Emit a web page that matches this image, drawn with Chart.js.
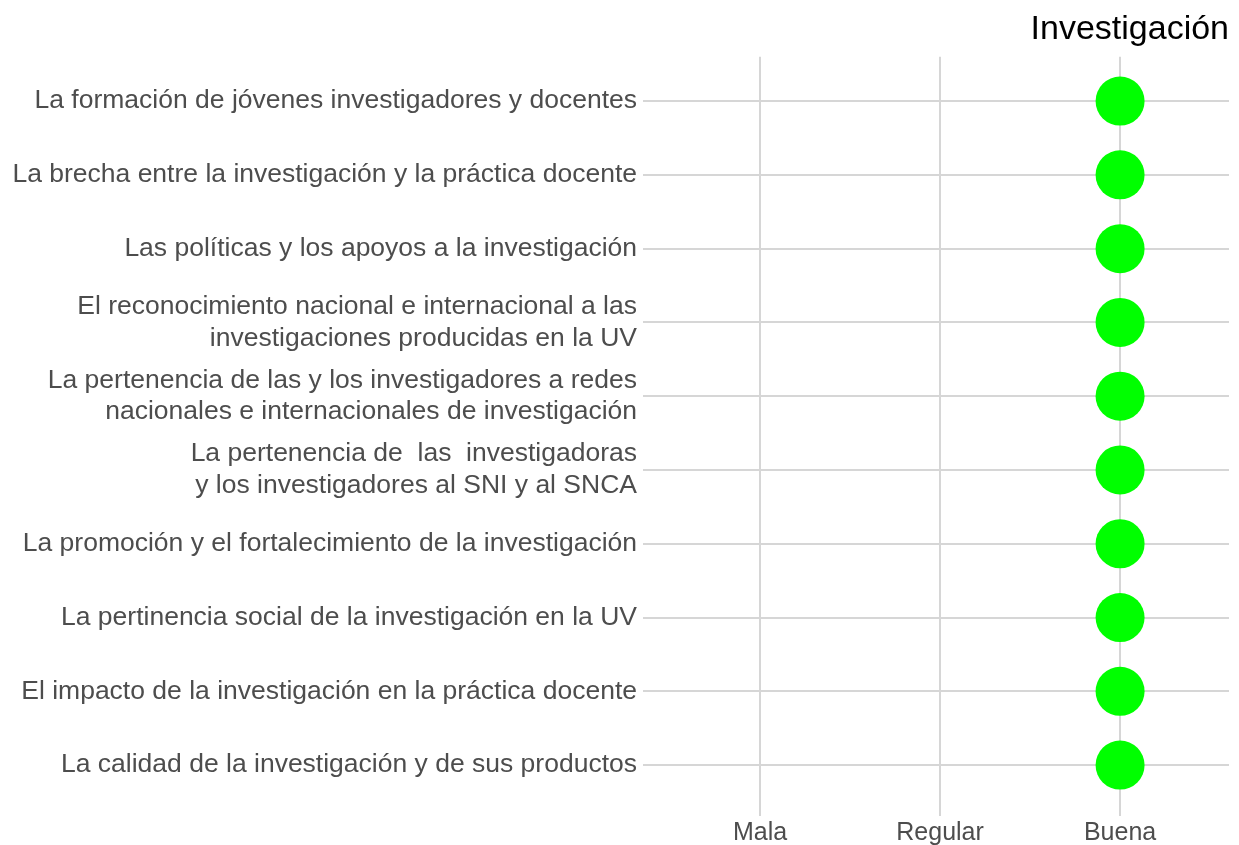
<!DOCTYPE html>
<html>
<head>
<meta charset="utf-8">
<script src="https://cdn.jsdelivr.net/npm/chart.js@4.4.1/dist/chart.umd.min.js"></script>
<style>
  html, body { margin: 0; padding: 0; background: #fff; }
  #wrap { width: 1239px; height: 845px; }
</style>
</head>
<body>
<div id="wrap"><canvas id="chartDots"></canvas></div>
<script>
// rubros de la dimension Investigacion (de arriba hacia abajo)
var categories = [
    'La formación de jóvenes investigadores y docentes',
    'La brecha entre la investigación y la práctica docente',
    'Las políticas y los apoyos a la investigación',
    ['El reconocimiento nacional e internacional a las', 'investigaciones producidas en la UV'],
    ['La pertenencia de las y los investigadores a redes', 'nacionales e internacionales de investigación'],
    ['La pertenencia de  las  investigadoras', 'y los investigadores al SNI y al SNCA'],
    'La promoción y el fortalecimiento de la investigación',
    'La pertinencia social de la investigación en la UV',
    'El impacto de la investigación en la práctica docente',
    'La calidad de la investigación y de sus productos'
];
var ratingLabels = ['Mala', 'Regular', 'Buena'];
// valoracion de cada rubro (indice en ratingLabels, 1 = Mala)
var ratings = [3, 3, 3, 3, 3, 3, 3, 3, 3, 3];

var points = ratings.map(function (r, i) { return { x: r, y: i + 1 }; });

var fontFam = "'Liberation Sans', Arial, sans-serif";
var gridColor = '#d6d6d6';

var dots = new Chart(document.getElementById('chartDots'), {
    type: 'scatter',
    data: {
        datasets: [
            {
                data: points,
                backgroundColor: '#00ff00',
                borderWidth: 0,
                pointRadius: 24.5,
                pointHoverRadius: 24.5
            }
        ]
    },
    options: {
        responsive: true,
        maintainAspectRatio: false,
        animation: false,
        layout: { autoPadding: false, padding: { left: 0, right: 10, top: 0, bottom: 0 } },
        plugins: {
            legend: { display: false },
            tooltip: { enabled: false },
            title: {
                display: true,
                text: 'Investigación',
                align: 'end',
                color: '#000',
                font: { family: fontFam, size: 34, weight: 'normal' },
                padding: { top: 9, bottom: 7 }
            }
        },
        scales: {
            x: {
                type: 'linear',
                min: 0.35,
                max: 3.605,
                afterBuildTicks: function (scale) {
                    scale.ticks = ratingLabels.map(function (l, i) { return { value: i + 1 }; });
                },
                afterFit: function (scale) {
                    scale.height = 29;
                    scale.paddingLeft = 0;
                    scale.paddingRight = 0;
                },
                ticks: {
                    color: '#4d4d4d',
                    font: { family: fontFam, size: 25 },
                    padding: 2,
                    autoSkip: false,
                    maxRotation: 0,
                    callback: function (v) { return ratingLabels[v - 1]; }
                },
                grid: { color: gridColor, lineWidth: 2, drawTicks: false },
                border: { display: false }
            },
            y: {
                type: 'linear',
                reverse: true,
                min: 0.4,
                max: 10.69,
                afterBuildTicks: function (scale) {
                    scale.ticks = categories.map(function (c, i) { return { value: i + 1 }; });
                },
                afterFit: function (scale) {
                    scale.width = 643;
                    scale.paddingTop = 0;
                    scale.paddingBottom = 0;
                },
                ticks: {
                    color: '#4d4d4d',
                    font: { family: fontFam, size: 26.5 },
                    padding: 6,
                    autoSkip: false,
                    callback: function (v) { return categories[v - 1]; }
                },
                grid: { color: gridColor, lineWidth: 2, drawTicks: false },
                border: { display: false }
            }
        }
    }
});
</script>
</body>
</html>
